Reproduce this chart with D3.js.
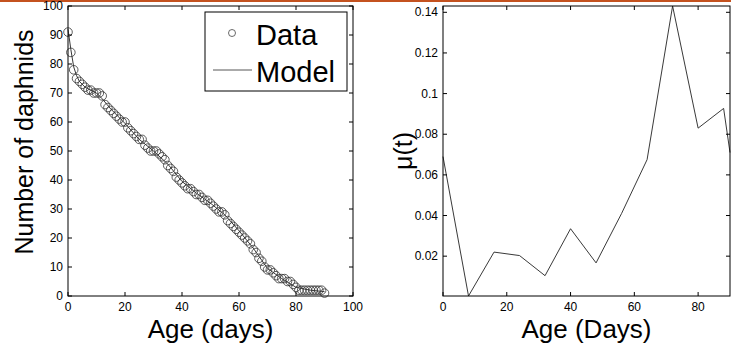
<!DOCTYPE html>
<html>
<head>
<meta charset="utf-8">
<script src="https://cdn.jsdelivr.net/npm/d3@7"></script>
<style>
	body { margin: 0; background: #fff; }
	svg { display: block; font-family: "Liberation Sans", Arial, sans-serif; }
</style>
</head>
<body>
<div id="chart"></div>
<script>
// survival data, one count per day of age (0..90)
var counts = [91, 84, 78, 75, 74, 73, 72, 71, 71, 70,
	70, 70, 69, 66, 65, 64, 63, 62, 61, 60,
	60, 58, 57, 56, 55, 54, 54, 52, 51, 50,
	50, 50, 49, 48, 47, 45, 44, 43, 41, 40,
	39, 38, 37, 37, 36, 35, 35, 34, 33, 33,
	32, 31, 30, 29, 29, 28, 26, 25, 24, 23,
	22, 21, 20, 19, 18, 16, 15, 13, 12, 10,
	9, 9, 8, 7, 6, 6, 6, 5, 5, 4,
	3, 2, 2, 2, 2, 2, 2, 2, 2, 2,
	1];

// fitted model curve
var modelDays = [0, 1, 2, 3, 4, 6, 8, 10, 12, 15, 20, 25, 30, 35, 40, 45, 50, 55, 60, 65, 70, 75, 80, 85, 90];
var modelCounts = [92, 85, 79, 76, 74, 72, 71, 70, 68, 64.5, 59.5, 54, 50, 45.5, 39.5, 35.5, 32, 28, 22.5, 16.5, 9.5, 6, 3, 2, 1.5];

// mortality rate mu(t)
var muAge = [0, 8, 16, 24, 32, 40, 48, 56, 64, 72, 80, 88, 90];
var muValue = [0.069, 0.0004, 0.022, 0.0203, 0.0104, 0.0335, 0.0167, 0.041, 0.0675, 0.1431, 0.083, 0.0927, 0.071];

// tick labels
var leftXTicks = [0, 20, 40, 60, 80, 100];
var leftYTicks = [0, 10, 20, 30, 40, 50, 60, 70, 80, 90, 100];
var rightXTicks = [0, 20, 40, 60, 80];
var rightYTicks = [0.02, 0.04, 0.06, 0.08, 0.1, 0.12, 0.14];

var width = 731;
var height = 347;

var svg = d3.select("#chart").append("svg")
	.attr("width", width)
	.attr("height", height);

//orange strip at the top
svg.append("rect")
	.attr("x", 0)
	.attr("y", 0)
	.attr("width", width)
	.attr("height", 2)
	.style("fill", "#c4521f");

var plotTop = 6, plotBottom = 296;

// draws a boxed matlab-style axes with inward ticks on all sides
function drawFrame(g, x, y, xTicks, yTicks, yFormat) {
	var x0 = x.range()[0], x1 = x.range()[1];
	var y0 = y.range()[0], y1 = y.range()[1];
	var tick = 4;

	g.append("rect")
		.attr("x", x0)
		.attr("y", y1)
		.attr("width", x1 - x0)
		.attr("height", y0 - y1)
		.style("fill", "none")
		.style("stroke", "#000")
		.style("stroke-width", 1);

	xTicks.forEach(function(t) {
		var px = x(t);
		g.append("line").attr("x1", px).attr("x2", px).attr("y1", y0).attr("y2", y0 - tick)
			.style("stroke", "#000");
		g.append("line").attr("x1", px).attr("x2", px).attr("y1", y1).attr("y2", y1 + tick)
			.style("stroke", "#000");
		g.append("text")
			.attr("x", px)
			.attr("y", y0 + 15)
			.attr("text-anchor", "middle")
			.style("font-size", "12px")
			.text(t);
	});

	yTicks.forEach(function(t) {
		var py = y(t);
		g.append("line").attr("x1", x0).attr("x2", x0 + tick).attr("y1", py).attr("y2", py)
			.style("stroke", "#000");
		g.append("line").attr("x1", x1).attr("x2", x1 - tick).attr("y1", py).attr("y2", py)
			.style("stroke", "#000");
		g.append("text")
			.attr("x", x0 - 5)
			.attr("y", py + 4)
			.attr("text-anchor", "end")
			.style("font-size", "12px")
			.text(yFormat(t));
	});
}

//left panel: number of daphnids
var xLeft = d3.scaleLinear().domain([0, 100]).range([68, 353]);
var yLeft = d3.scaleLinear().domain([0, 100]).range([plotBottom, plotTop]);
var leftPanel = svg.append("g");

leftPanel.append("path")
	.datum(modelDays)
	.attr("d", d3.line()
		.x(function(d) { return xLeft(d); })
		.y(function(d, i) { return yLeft(modelCounts[i]); }))
	.style("fill", "none")
	.style("stroke", "#222")
	.style("stroke-width", 0.9);

leftPanel.selectAll("circle.data")
	.data(counts)
	.enter().append("circle")
	.attr("class", "data")
	.attr("cx", function(d, i) { return xLeft(i); })
	.attr("cy", function(d) { return yLeft(d); })
	.attr("r", 4.3)
	.style("fill", "none")
	.style("stroke", "#333")
	.style("stroke-width", 0.8);

drawFrame(leftPanel, xLeft, yLeft, leftXTicks, leftYTicks, function(d) { return d; });

//legend
var legend = leftPanel.append("g");
legend.append("rect")
	.attr("x", 205)
	.attr("y", 12)
	.attr("width", 142)
	.attr("height", 79)
	.style("fill", "#fff")
	.style("stroke", "#000")
	.style("stroke-width", 1);
legend.append("circle")
	.attr("cx", 232)
	.attr("cy", 33)
	.attr("r", 3.5)
	.style("fill", "none")
	.style("stroke", "#444")
	.style("stroke-width", 0.8);
legend.append("line")
	.attr("x1", 213).attr("x2", 252)
	.attr("y1", 70).attr("y2", 70)
	.style("stroke", "#444")
	.style("stroke-width", 0.9);
legend.append("text")
	.attr("x", 256).attr("y", 45)
	.style("font-size", "29px")
	.text("Data");
legend.append("text")
	.attr("x", 256).attr("y", 82)
	.style("font-size", "29px")
	.text("Model");

leftPanel.append("text")
	.attr("x", 210.5)
	.attr("y", 338)
	.attr("text-anchor", "middle")
	.style("font-size", "26px")
	.text("Age (days)");
leftPanel.append("text")
	.attr("transform", "translate(33,142) rotate(-90)")
	.attr("text-anchor", "middle")
	.style("font-size", "25px")
	.text("Number of daphnids");

//right panel: mu(t)
var xRight = d3.scaleLinear().domain([0, 90]).range([443, 730]);
var yRight = d3.scaleLinear().domain([d3.min(muValue), d3.max(muValue)]).range([plotBottom, plotTop]);
var rightPanel = svg.append("g");

rightPanel.append("path")
	.datum(muAge)
	.attr("d", d3.line()
		.x(function(d) { return xRight(d); })
		.y(function(d, i) { return yRight(muValue[i]); }))
	.style("fill", "none")
	.style("stroke", "#222")
	.style("stroke-width", 0.9);

drawFrame(rightPanel, xRight, yRight, rightXTicks, rightYTicks, function(d) { return d3.format("~g")(d); });

rightPanel.append("text")
	.attr("x", 586.5)
	.attr("y", 338)
	.attr("text-anchor", "middle")
	.style("font-size", "26px")
	.text("Age (Days)");
rightPanel.append("text")
	.attr("transform", "translate(412,151) rotate(-90)")
	.attr("text-anchor", "middle")
	.style("font-size", "25px")
	.text("μ(t)");
</script>
</body>
</html>
